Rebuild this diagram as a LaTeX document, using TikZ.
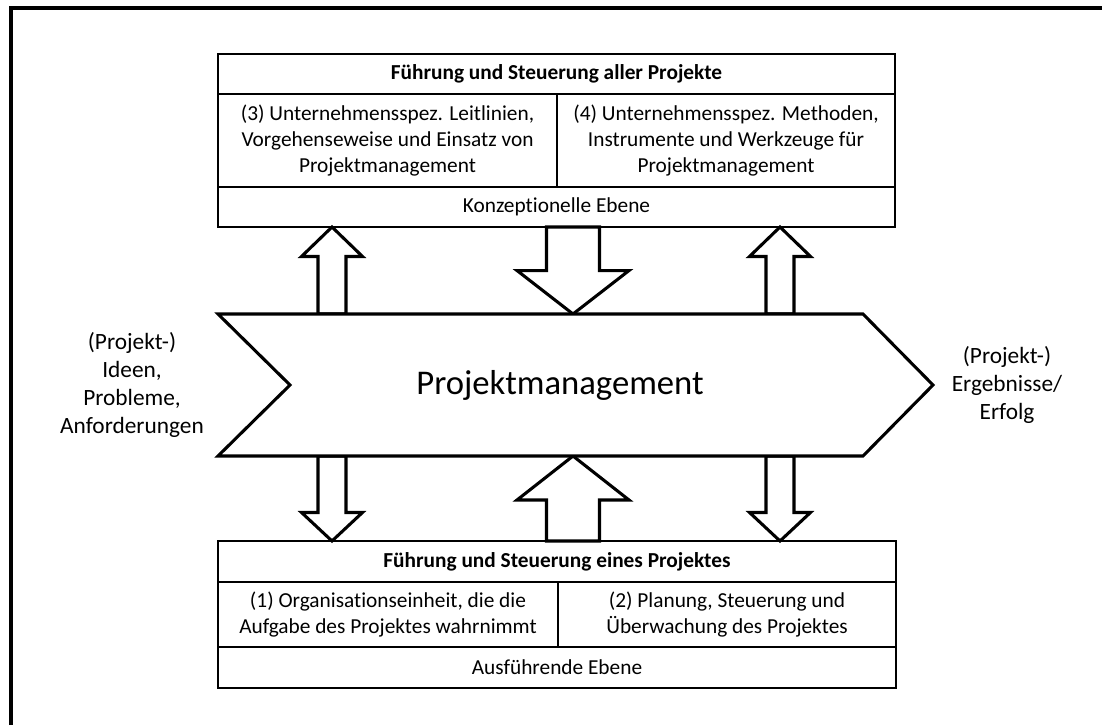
\documentclass[tikz,border=0pt]{standalone}
\usepackage{fontspec}
\setmainfont{Carlito}[Ligatures={TeX,NoCommon}]
\usetikzlibrary{calc}

\tikzset{
  outline/.style={draw=black, line width=2.3pt, line join=miter},
  blockarrow/.style={outline, fill=white},
  cell/.style={draw=black, fill=white, line width=1.5pt, inner sep=0pt, outer sep=0pt,
    anchor=north west, align=center, font=\fontsize{16}{19.2}\selectfont},
  headcell/.style={cell, font=\bfseries\fontsize{16}{19.2}\selectfont},
  sidetext/.style={align=center, font=\fontsize{17.5}{21}\selectfont},
  bigtext/.style={font=\fontsize{26}{31}\selectfont},
}

% block arrow from base #1 to tip #2; #3 shaft half width, #4 head half width (px), #5 head length
\newcommand{\blkarrow}[5]{%
  \path ($(#2)!#5!(#1)$) coordinate (hb);
  \draw[blockarrow] ($(#1)+(-#3,0)$) -- ($(hb)+(-#3,0)$) -- ($(hb)+(-#4,0)$) -- (#2)
    -- ($(hb)+(#4,0)$) -- ($(hb)+(#3,0)$) -- ($(#1)+(#3,0)$) -- cycle;
}

\begin{document}
\begin{tikzpicture}[x=0.75pt, y=-0.75pt]
\useasboundingbox (0,0) rectangle (1102,725);

% outer frame (top and left edges)
\draw[line width=2.5pt, line join=miter] (11,725) -- (11,8) -- (1102,8);

% conceptual level
\node[headcell, minimum width=677*0.75pt, minimum height=40*0.75pt] (th) at (218,54)
  {Führung und Steuerung aller Projekte};
\node[cell, minimum width=339*0.75pt, minimum height=93*0.75pt] (t3) at (218,94)
  {(3) Unternehmensspez. Leitlinien,\\Vorgehenseweise und Einsatz von\\Projektmanagement};
\node[cell, minimum width=338*0.75pt, minimum height=93*0.75pt] (t4) at (557,94)
  {(4) Unternehmensspez. Methoden,\\Instrumente und Werkzeuge für\\Projektmanagement};
\node[cell, minimum width=677*0.75pt, minimum height=40*0.75pt] (tk) at (218,187)
  {Konzeptionelle Ebene};

% executive level
\node[headcell, minimum width=678*0.75pt, minimum height=41*0.75pt] (bh) at (218,541)
  {Führung und Steuerung eines Projektes};
\node[cell, minimum width=340*0.75pt, minimum height=65*0.75pt] (b1) at (218,582)
  {(1) Organisationseinheit, die die\\Aufgabe des Projektes wahrnimmt};
\node[cell, minimum width=338*0.75pt, minimum height=65*0.75pt] (b2) at (558,582)
  {(2) Planung, Steuerung und\\Überwachung des Projektes};
\node[cell, minimum width=678*0.75pt, minimum height=41*0.75pt] (ba) at (218,647)
  {Ausführende Ebene};

% chevron outline
\coordinate (ch1) at (218,314);
\coordinate (ch2) at (863,314);
\coordinate (ch3) at (933,385);
\coordinate (ch4) at (863,456);
\coordinate (ch5) at (218,456);
\coordinate (ch6) at (290,385);

% arrow columns
\coordinate (xL) at (332,0);
\coordinate (xM) at (573,0);
\coordinate (xR) at (780,0);

\coordinate (a1b) at (xL |- ch1); \coordinate (a1t) at (xL |- tk.south);
\coordinate (a2b) at (xM |- tk.south); \coordinate (a2t) at (xM |- ch1);
\coordinate (a3b) at (xR |- ch1); \coordinate (a3t) at (xR |- tk.south);
\coordinate (a4b) at (xL |- ch5); \coordinate (a4t) at (xL |- bh.north);
\coordinate (a5b) at (xM |- bh.north); \coordinate (a5t) at (xM |- ch5);
\coordinate (a6b) at (xR |- ch5); \coordinate (a6t) at (xR |- bh.north);

\blkarrow{a1b}{a1t}{14}{30.5}{22.1pt}
\blkarrow{a2b}{a2t}{26.5}{56}{32.6pt}
\blkarrow{a3b}{a3t}{14}{30.5}{22.1pt}
\blkarrow{a4b}{a4t}{14}{30.5}{21.4pt}
\blkarrow{a5b}{a5t}{26.5}{56}{33pt}
\blkarrow{a6b}{a6t}{14}{30.5}{21.4pt}

% redraw box borders over the arrow tips
\foreach \n in {th,t3,t4,tk,bh,b1,b2,ba}
  \draw[line width=1.5pt] (\n.north west) rectangle (\n.south east);

\draw[outline, fill=white] (ch1) -- (ch2) -- (ch3) -- (ch4) -- (ch5) -- (ch6) -- cycle;
\node[bigtext] (pm) at (560,385) {Projektmanagement};

% inputs and outputs
\node[sidetext] (in) at (132,385) {(Projekt-)\\Ideen,\\Probleme,\\Anforderungen};
\node[sidetext] (out) at (1007,385) {(Projekt-)\\Ergebnisse/\\Erfolg};
\end{tikzpicture}
\end{document}
